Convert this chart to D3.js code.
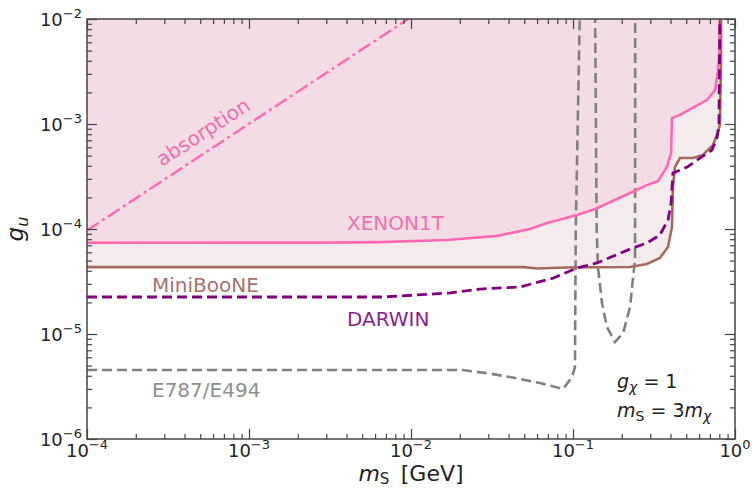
<!DOCTYPE html>
<html>
<head>
<meta charset="utf-8">
<script src="https://cdn.jsdelivr.net/npm/d3@7"></script>
<style>
  body { margin: 0; background: #fff; }
  svg text { font-family: "DejaVu Sans", sans-serif; }
</style>
</head>
<body>
<div id="chart"></div>
<script>
// curves as [m_S (GeV), g_u] pairs
var xenon1t = [
  [1e-4, 7.4e-5], [3e-3, 7.42e-5], [6.4e-3, 7.5e-5], [0.0167, 7.85e-5], [0.034, 8.6e-5],
  [0.0543, 1.0e-4], [0.0692, 1.14e-4], [0.106, 1.36e-4], [0.137, 1.55e-4],
  [0.225, 2.2e-4], [0.286, 2.62e-4], [0.335, 2.86e-4], [0.38, 3.89e-4],
  [0.403, 5.3e-4], [0.408, 1.14e-3], [0.457, 1.22e-3], [0.671, 1.69e-3],
  [0.754, 2.11e-3], [0.774, 2.74e-3], [0.796, 4.07e-3], [0.807, 1.2e-2]
];
var miniboone = [
  [1e-4, 4.33e-5], [0.05, 4.33e-5], [0.06, 4.2e-5], [0.09, 4.3e-5],
  [0.225, 4.35e-5], [0.286, 4.64e-5], [0.344, 5.3e-5], [0.386, 6.74e-5],
  [0.408, 1.04e-4], [0.414, 2.51e-4], [0.426, 3.89e-4], [0.457, 4.74e-4],
  [0.551, 4.74e-4], [0.634, 5.07e-4], [0.731, 6.3e-4], [0.785, 8.4e-4],
  [0.807, 9.8e-4], [0.82, 4.07e-3], [0.82, 1.2e-2]
];
var darwin = [
  [1e-4, 2.25e-5], [6.7e-3, 2.25e-5], [0.0174, 2.46e-5], [0.0267, 2.68e-5],
  [0.0471, 2.8e-5], [0.0754, 3.41e-5], [0.106, 4.25e-5], [0.1406, 4.75e-5],
  [0.234, 6.6e-5], [0.286, 7.36e-5], [0.344, 8.77e-5], [0.386, 1.22e-4],
  [0.403, 1.77e-4], [0.414, 3.41e-4], [0.506, 3.89e-4], [0.608, 4.74e-4],
  [0.721, 5.65e-4], [0.774, 7.36e-4], [0.796, 9.8e-4], [0.807, 1.2e-2]
];
var e787 = [
  [1e-4, 4.54e-6], [0.0209, 4.54e-6], [0.0307, 4.2e-6], [0.0408, 3.89e-6],
  [0.0625, 3.41e-6], [0.0867, 2.99e-6], [0.0986, 3.89e-6], [0.1028, 4.85e-6],
  [0.104, 1e-4], [0.11, 1e-2], [0.111, 3e-2],
  [0.136, 3e-2], [0.137, 1e-2], [0.14, 1e-4], [0.1426, 4.35e-5],
  [0.151, 1.97e-5], [0.162, 1.17e-5], [0.1815, 8.4e-6], [0.204, 1.02e-5],
  [0.225, 1.81e-5], [0.234, 3.27e-5], [0.2415, 5.07e-5], [0.242, 1e-3], [0.242, 3e-2]
];
var absorption = [[1e-4, 9.7e-5], [9.6e-3, 1e-2], [0.02, 2.1e-2]];

var xMajor = [1e-4, 1e-3, 1e-2, 1e-1, 1];
var xExp = ["\u22124", "\u22123", "\u22122", "\u22121", "0"];
var yMajor = [1e-6, 1e-5, 1e-4, 1e-3, 1e-2];
var yExp = ["\u22126", "\u22125", "\u22124", "\u22123", "\u22122"];

var W = 752, H = 489;
var L = 87, R = 735, T = 19, B = 439;

var x = d3.scaleLog().domain([1e-4, 1]).range([L, R]);
var y = d3.scaleLog().domain([1e-6, 1e-2]).range([B, T]);

var svg = d3.select("#chart").append("svg").attr("width", W).attr("height", H);

svg.append("clipPath").attr("id", "clip")
  .append("rect").attr("x", L).attr("y", T).attr("width", R - L).attr("height", B - T);

var plot = svg.append("g").attr("clip-path", "url(#clip)");

var line = d3.line().x(d => x(d[0])).y(d => y(d[1]));
var area = d3.area().x(d => x(d[0])).y0(T).y1(d => y(d[1]));

plot.append("path").attr("d", area(miniboone)).attr("fill", "#f4ecec");
plot.append("path").attr("d", area(xenon1t)).attr("fill", "#f3dce5");

plot.append("path").attr("d", line(e787)).attr("fill", "none")
  .attr("stroke", "#808080").attr("stroke-width", 2.6).attr("stroke-dasharray", "10,5");
plot.append("path").attr("d", line(miniboone)).attr("fill", "none")
  .attr("stroke", "#a5695e").attr("stroke-width", 2.6);
plot.append("path").attr("d", line(xenon1t)).attr("fill", "none")
  .attr("stroke", "#ff69b4").attr("stroke-width", 2.6);
plot.append("path").attr("d", line(darwin)).attr("fill", "none")
  .attr("stroke", "#800080").attr("stroke-width", 2.8).attr("stroke-dasharray", "10,5");
plot.append("path").attr("d", line(absorption)).attr("fill", "none")
  .attr("stroke", "#ff69b4").attr("stroke-width", 2.4).attr("stroke-dasharray", "14,4,3,4");

// ticks on all four sides, pointing inward
var xMinor = [], yMinor = [];
for (var e = -4; e < 0; e++) for (var k = 2; k < 10; k++) xMinor.push(k * Math.pow(10, e));
for (var e = -6; e < -2; e++) for (var k = 2; k < 10; k++) yMinor.push(k * Math.pow(10, e));

function axisSet(axisFn, scale, pos, vals, size) {
  var g = svg.append("g").attr("transform", pos)
    .call(axisFn(scale).tickValues(vals).tickSize(-size).tickFormat(""));
  g.select(".domain").remove();
  g.selectAll("line").attr("stroke", "#444").attr("stroke-width", 1.2);
}
axisSet(d3.axisBottom, x, "translate(0," + B + ")", xMinor, 5);
axisSet(d3.axisBottom, x, "translate(0," + B + ")", xMajor, 10);
axisSet(d3.axisTop, x, "translate(0," + T + ")", xMinor, 5);
axisSet(d3.axisTop, x, "translate(0," + T + ")", xMajor, 10);
axisSet(d3.axisLeft, y, "translate(" + L + ",0)", yMinor, 5);
axisSet(d3.axisLeft, y, "translate(" + L + ",0)", yMajor, 10);
axisSet(d3.axisRight, y, "translate(" + R + ",0)", yMinor, 5);
axisSet(d3.axisRight, y, "translate(" + R + ",0)", yMajor, 10);

svg.append("rect").attr("x", L).attr("y", T).attr("width", R - L).attr("height", B - T)
  .attr("fill", "none").attr("stroke", "#444").attr("stroke-width", 1.5);

// tick labels 10^n
xMajor.forEach(function (v, i) {
  var t = svg.append("text").attr("x", x(v)).attr("y", B + 18)
    .attr("text-anchor", "middle").attr("font-size", 18).attr("fill", "#222");
  t.append("tspan").text("10");
  t.append("tspan").attr("font-size", 13).attr("dy", -8).text(xExp[i]);
});
yMajor.forEach(function (v, i) {
  var t = svg.append("text").attr("x", L - 5).attr("y", y(v) + 7)
    .attr("text-anchor", "end").attr("font-size", 18).attr("fill", "#222");
  t.append("tspan").text("10");
  t.append("tspan").attr("font-size", 13).attr("dy", -8).text(yExp[i]);
});

// axis titles
var xl = svg.append("text").attr("x", (L + R) / 2).attr("y", 481)
  .attr("text-anchor", "middle").attr("font-size", 22).attr("fill", "#222");
xl.append("tspan").attr("font-style", "italic").text("m");
xl.append("tspan").attr("font-size", 15).attr("dy", 3).text("S");
xl.append("tspan").attr("dy", -3).text("\u2009 [GeV]");

var yl = svg.append("text").attr("transform", "translate(23," + ((T + B) / 2) + ") rotate(-90)")
  .attr("text-anchor", "middle").attr("font-size", 23).attr("fill", "#222");
yl.append("tspan").attr("font-style", "italic").text("g");
yl.append("tspan").attr("font-style", "italic").attr("font-size", 16).attr("dy", 5).text("u");

// curve labels
function label(txt, px, py, color) {
  svg.append("text").attr("x", px).attr("y", py).attr("font-size", 20)
    .attr("fill", color).text(txt);
}
label("XENON1T", 347, 230, "#f06fae");
label("MiniBooNE", 152, 292, "#a8726b");
label("DARWIN", 347, 326, "#8a1e8a");
label("E787/E494", 152, 397, "#8e8e8e");

svg.append("text").attr("transform", "translate(203,132) rotate(-33)")
  .attr("text-anchor", "middle").attr("dy", "0.35em").attr("font-size", 20)
  .attr("fill", "#f06fae").text("absorption");

var g1 = svg.append("text").attr("x", 617).attr("y", 388).attr("font-size", 19).attr("fill", "#222");
g1.append("tspan").attr("font-style", "italic").text("g");
g1.append("tspan").attr("font-style", "italic").attr("font-size", 14).attr("dy", 4).text("\u03c7");
g1.append("tspan").attr("dy", -4).text(" = 1");

var g2 = svg.append("text").attr("x", 617).attr("y", 417).attr("font-size", 19).attr("fill", "#222");
g2.append("tspan").attr("font-style", "italic").text("m");
g2.append("tspan").attr("font-size", 14).attr("dy", 4).text("S");
g2.append("tspan").attr("dy", -4).text(" = 3");
g2.append("tspan").attr("font-style", "italic").text("m");
g2.append("tspan").attr("font-style", "italic").attr("font-size", 14).attr("dy", 4).text("\u03c7");
</script>
</body>
</html>
